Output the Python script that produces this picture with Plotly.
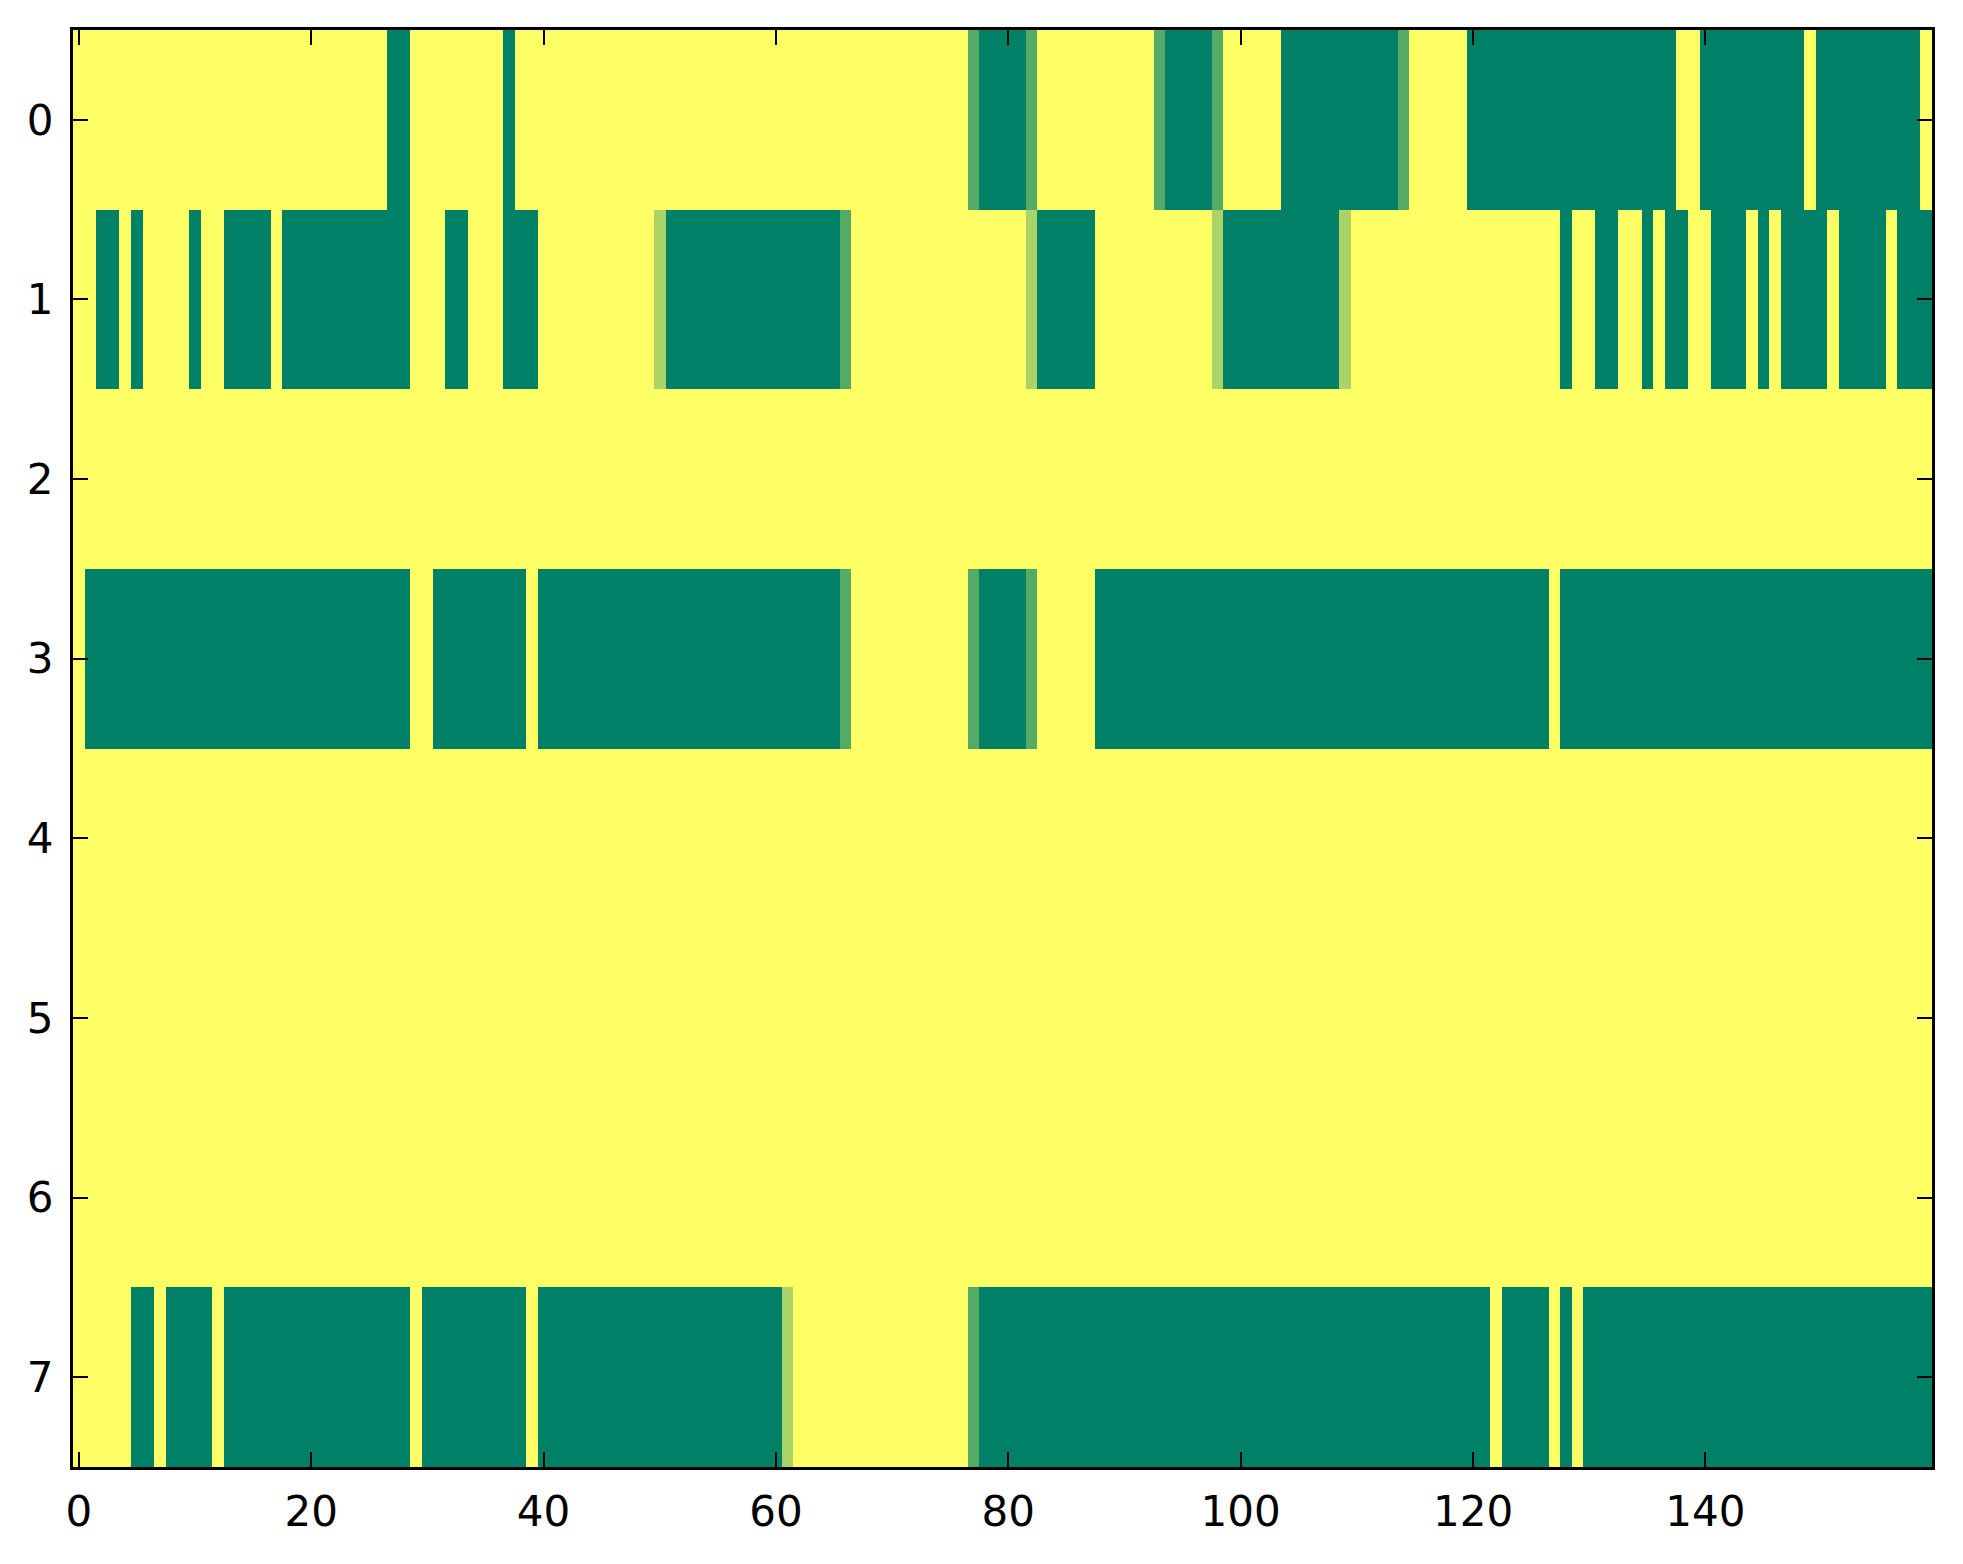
import plotly.graph_objects as go

# Run-length data per row: (level, count); level 0..3 -> value level/3
row_0 = [(3,27),(0,2),(3,8),(0,1),(3,39),(1,1),(0,4),(1,1),(3,10),(1,1),(0,4),(1,1),(3,5),(0,10),(1,1),(3,5),(0,18),(3,2),(0,9),(3,1),(0,9),(3,1)]
row_1 = [(3,2),(0,2),(3,1),(0,1),(3,4),(0,1),(3,2),(0,4),(3,1),(0,11),(3,3),(0,2),(3,3),(0,3),(3,10),(2,1),(0,15),(1,1),(3,15),(2,1),(0,5),(3,10),(2,1),(0,10),(2,1),(3,18),(0,1),(3,2),(0,2),(3,2),(0,1),(3,1),(0,2),(3,2),(0,3),(3,1),(0,1),(3,1),(0,4),(3,1),(0,4),(3,1),(0,3)]
row_2 = [(3,160)]
row_3 = [(3,1),(0,28),(3,2),(0,8),(3,1),(0,26),(1,1),(3,10),(1,1),(0,4),(1,1),(3,5),(0,39),(3,1),(0,32)]
row_4 = [(3,160)]
row_5 = [(3,160)]
row_6 = [(3,160)]
row_7 = [(3,5),(0,2),(3,1),(0,4),(3,1),(0,16),(3,1),(0,9),(3,1),(0,21),(2,1),(3,15),(1,1),(0,44),(3,1),(0,4),(3,1),(0,1),(3,1),(0,30)]

rows = [row_0, row_1, row_2, row_3, row_4, row_5, row_6, row_7]
x_ticks = [0, 20, 40, 60, 80, 100, 120, 140]
y_ticks = [0, 1, 2, 3, 4, 5, 6, 7]

def expand(runs):
    out = []
    for lvl, n in runs:
        out.extend([lvl / 3.0] * n)
    assert len(out) == 160, len(out)
    return out

z = [expand(r) for r in rows]

fig = go.Figure(go.Heatmap(
    z=z,
    x=list(range(160)),
    y=list(range(8)),
    zmin=0, zmax=1,
    colorscale=[[0, 'rgb(0,128,102)'], [1, 'rgb(255,255,102)']],
    showscale=False,
    zsmooth=False,
    hoverinfo='skip',
))

axis_common = dict(
    showline=True, linecolor='black', linewidth=3, mirror='ticks',
    ticks='inside', ticklen=15, tickwidth=2, tickcolor='black',
    showgrid=False, zeroline=False,
    tickfont=dict(family='DejaVu Sans', size=42, color='black'),
)

fig.update_xaxes(range=[-0.5, 159.5], tickvals=x_ticks, ticktext=[str(v) for v in x_ticks], ticklabelstandoff=6, **axis_common)
fig.update_yaxes(range=[7.5, -0.5], tickvals=y_ticks, ticktext=[str(v) for v in y_ticks], ticklabelstandoff=8, **axis_common)

fig.update_layout(
    width=1947, height=1548,
    margin=dict(l=65, r=23, t=22, b=89),
    paper_bgcolor='white', plot_bgcolor='white',
)

fig.write_html("out.html")
